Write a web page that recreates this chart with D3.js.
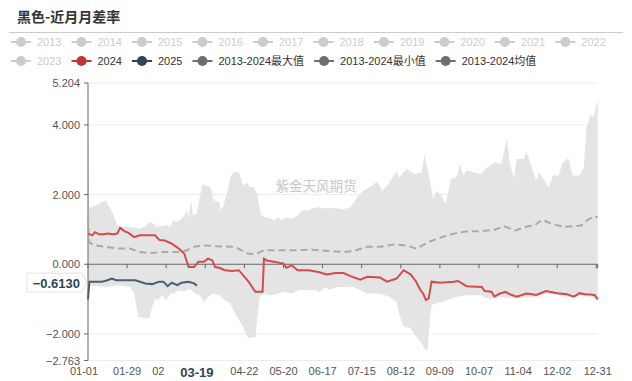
<!DOCTYPE html>
<html>
<head>
<meta charset="utf-8">
<script src="https://cdn.jsdelivr.net/npm/d3@7"></script>
<style>
  body { margin: 0; background: #fff; }
  #plot { width: 632px; height: 381px; }
  text { font-family: "Liberation Sans", Arial, sans-serif; }
</style>
</head>
<body>
<div id="plot"></div>
<script>

// categories: every day of the year, shown as MM-DD
var categories = d3.timeDay.range(new Date(2024, 0, 1), new Date(2025, 0, 1)).map(d3.timeFormat("%m-%d"));

var yTicks = [5.204, 4, 2, 0, -2, -2.763];

var legendNames = ["2013", "2014", "2015", "2016", "2017", "2018", "2019", "2020", "2021", "2022",
		   "2023", "2024", "2025", "2013-2024最大值", "2013-2024最小值", "2013-2024均值"];

// 2013-2024 max
var maxValues = [["01-01",4.1],["01-02",1.6],["01-04",1.64],["01-06",1.69],["01-09",1.72],["01-11",1.78],
    ["01-14",1.82],["01-16",1.66],["01-19",1.45],["01-21",1.21],["01-23",1.07],["01-31",1.07],["02-05",1.05],
    ["02-07",1.02],["02-12",1.11],["02-14",1.21],["02-17",1.16],["02-19",1.07],["02-24",1.10],["02-26",1.14],
    ["02-29",1.07],["03-02",1.26],["03-05",1.21],["03-09",1.35],["03-12",1.54],["03-13",1.35],["03-15",1.83],
    ["03-16",1.40],["03-19",1.45],["03-21",1.92],["03-23",2.30],["03-26",2.25],["03-29",2.20],["03-31",1.83],
    ["04-04",1.78],["04-05",1.54],["04-07",1.69],["04-10",2.11],["04-12",2.50],["04-14",2.64],["04-18",2.64],
    ["04-20",2.40],["04-21",2.26],["04-24",2.35],["04-26",2.21],["04-29",2.21],["05-01",2.02],["05-04",1.40],
    ["05-07",1.35],["05-11",1.30],["05-14",1.26],["05-16",1.35],["05-19",1.26],["05-22",1.35],["05-26",1.30],
    ["05-30",1.40],["06-01",1.50],["06-03",1.55],["06-07",1.55],["06-09",1.60],["06-14",1.64],["06-19",1.60],
    ["06-24",1.62],["06-28",1.60],["07-02",1.58],["07-07",1.64],["07-11",1.88],["07-16",2.11],["07-22",2.25],
    ["07-26",2.37],["07-30",2.11],["08-03",2.30],["08-09",2.66],["08-11",2.50],["08-16",2.73],["08-22",2.59],
    ["08-27",2.64],["08-29",3.16],["09-01",2.59],["09-04",1.88],["09-07",2.11],["09-10",1.97],["09-13",1.73],
    ["09-17",2.45],["09-21",2.50],["09-23",2.88],["09-26",2.55],["09-28",2.69],["10-08",2.59],["10-13",2.78],
    ["10-18",2.92],["10-23",2.88],["10-27",3.62],["10-29",2.88],["11-01",2.50],["11-03",3.02],["11-08",3.02],
    ["11-10",3.24],["11-13",2.88],["11-17",2.40],["11-19",2.64],["11-23",2.40],["11-26",2.21],["11-29",2.55],
    ["12-03",2.55],["12-06",2.92],["12-10",3.05],["12-13",2.55],["12-18",2.55],["12-21",2.78],["12-23",3.92],
    ["12-26",4.30],["12-28",4.21],["12-31",4.72]];

// 2013-2024 min
var minValues = [["01-01",-0.65],["01-04",-0.62],["01-14",-0.65],["01-23",-0.60],["01-31",-0.65],["02-03",-0.84],
    ["02-06",-1.50],["02-11",-1.55],["02-14",-1.55],["02-16",-1.22],["02-18",-0.98],["02-20",-1.03],["02-23",-0.89],
    ["02-26",-1.03],["02-29",-0.84],["03-03",-0.84],["03-06",-0.74],["03-09",-0.79],["03-14",-0.70],["03-18",-0.84],
    ["03-21",-0.89],["03-24",-1.08],["03-27",-0.95],["03-30",-0.84],["04-04",-0.89],["04-08",-1.03],["04-12",-1.12],
    ["04-14",-1.31],["04-18",-1.60],["04-21",-1.79],["04-24",-2.08],["04-26",-2.12],["04-30",-2.08],["05-01",-1.60],
    ["05-03",-0.95],["05-05",-0.84],["05-11",-0.89],["05-16",-0.84],["05-21",-0.79],["05-26",-0.84],["05-31",-0.74],
    ["06-07",-0.74],["06-12",-0.74],["06-15",-0.79],["06-19",-0.65],["06-22",-0.74],["06-27",-0.65],["07-03",-0.65],
    ["07-09",-0.65],["07-14",-0.74],["07-19",-0.84],["07-28",-0.84],["08-04",-0.93],["08-09",-1.08],["08-11",-1.46],
    ["08-14",-1.79],["08-19",-1.84],["08-22",-2.03],["08-26",-2.22],["08-29",-2.41],["08-31",-2.50],["09-02",-1.55],
    ["09-03",-1.17],["09-07",-1.12],["09-14",-1.03],["09-21",-0.93],["09-28",-0.89],["10-08",-0.89],["10-15",-1.00],
    ["10-20",-0.93],["10-27",-0.96],["11-03",-0.98],["11-10",-0.95],["11-17",-0.95],["11-24",-0.84],["12-02",-0.88],
    ["12-09",-0.93],["12-14",-0.96],["12-18",-0.90],["12-26",-0.93],["12-31",-1.04]];

// 2013-2024 mean
var avgValues = [["01-01",1.35],["01-02",0.62],["01-06",0.54],["01-14",0.50],["01-23",0.45],["01-31",0.45],["02-07",0.35],
    ["02-14",0.32],["02-22",0.35],["02-29",0.35],["03-07",0.35],["03-12",0.40],["03-16",0.50],["03-24",0.54],
    ["04-02",0.52],["04-08",0.51],["04-15",0.50],["04-20",0.40],["04-25",0.30],["04-30",0.29],["05-03",0.35],
    ["05-06",0.40],["05-16",0.40],["05-28",0.40],["06-09",0.42],["06-21",0.38],["07-02",0.35],["07-09",0.38],
    ["07-19",0.50],["07-28",0.50],["08-07",0.57],["08-16",0.54],["08-23",0.45],["09-01",0.64],["09-09",0.76],
    ["09-19",0.88],["09-29",0.95],["10-09",0.95],["10-18",0.99],["10-25",1.09],["11-02",0.97],["11-11",1.09],
    ["11-16",1.12],["11-21",1.28],["11-28",1.16],["12-07",1.07],["12-12",1.09],["12-19",1.11],["12-23",1.25],
    ["12-28",1.37],["12-31",1.35]];

var values2024 = [["01-01",0.88],["01-04",0.83],["01-06",0.92],["01-09",0.86],["01-12",0.86],["01-15",0.88],
    ["01-19",0.86],["01-22",0.88],["01-24",1.05],["01-27",0.95],["01-30",0.90],["02-03",0.78],["02-07",0.83],
    ["02-18",0.83],["02-21",0.70],["02-25",0.68],["03-01",0.59],["03-06",0.45],["03-10",0.30],["03-13",-0.08],
    ["03-17",-0.08],["03-20",0.07],["03-24",0.07],["03-27",0.16],["03-30",0.11],["04-01",-0.08],["04-04",-0.10],
    ["04-08",-0.17],["04-13",-0.19],["04-18",-0.17],["04-21",-0.31],["04-25",-0.50],["04-29",-0.74],["04-30",-0.79],
    ["05-05",-0.79],["05-06",0.16],["05-08",0.11],["05-13",0.07],["05-20",0.02],["05-22",-0.10],["05-26",-0.03],
    ["05-30",-0.17],["06-07",-0.17],["06-14",-0.22],["06-20",-0.29],["06-26",-0.25],["07-02",-0.25],["07-07",-0.34],
    ["07-14",-0.44],["07-19",-0.36],["07-28",-0.38],["08-02",-0.50],["08-09",-0.41],["08-14",-0.17],["08-19",-0.29],
    ["08-23",-0.50],["08-26",-0.74],["08-28",-0.84],["08-30",-1.03],["09-01",-0.98],["09-03",-0.50],["09-09",-0.53],
    ["09-19",-0.50],["09-22",-0.48],["09-28",-0.63],["10-09",-0.65],["10-11",-0.77],["10-16",-0.79],["10-18",-0.93],
    ["10-22",-0.84],["10-26",-0.79],["10-29",-0.86],["11-03",-0.93],["11-10",-0.84],["11-14",-0.86],["11-17",-0.88],
    ["11-24",-0.77],["12-02",-0.83],["12-09",-0.86],["12-14",-0.93],["12-18",-0.83],["12-22",-0.86],["12-26",-0.87],
    ["12-29",-0.89],["12-31",-1.01]];

var values2025 = [["01-01",-1.01],["01-02",-0.50],["01-06",-0.50],["01-11",-0.50],["01-15",-0.46],["01-18",-0.41],
    ["01-21",-0.46],["02-04",-0.46],["02-11",-0.55],["02-16",-0.57],["02-21",-0.50],["02-24",-0.50],["02-27",-0.63],
    ["03-01",-0.53],["03-05",-0.60],["03-08",-0.53],["03-13",-0.50],["03-17",-0.55],["03-19",-0.613]];

var pointerDate = "03-19", pointerValue = -0.6130;

(function() {

    var width = 632, height = 381;
    var mLeft = 88, mRight = 597.7, mTop = 83, mBottom = 360.5;

    var svg = d3.select("#plot").append("svg")
	.attr("width", width)
	.attr("height", height);

    var x = d3.scalePoint().domain(categories).range([mLeft, mRight]);
    var y = d3.scaleLinear().domain([-2.763, 5.204]).range([mBottom, mTop]);

    // Title and separator
    svg.append("text")
	.attr("x", 17).attr("y", 22)
	.style("font-family", "'Noto Sans CJK SC', sans-serif")
	.style("font-weight", "bold")
	.style("font-size", "14px")
	.style("fill", "#333")
	.text("黑色-近月月差率");
    svg.append("line")
	.attr("x1", 9).attr("x2", 623)
	.attr("y1", 32.5).attr("y2", 32.5)
	.style("stroke", "#ccc");

    // Legend
    var legendColors = {"2024": "#c23531", "2025": "#2f4554",
			"2013-2024最大值": "#6e6e6e", "2013-2024最小值": "#6e6e6e", "2013-2024均值": "#6e6e6e"};
    var lx = 11, ly = 42;
    legendNames.forEach(function(name) {
	var active = legendColors[name] !== undefined;
	var col = active ? legendColors[name] : "#ccc";
	var g = svg.append("g");
	g.append("line")
	    .attr("x1", 0).attr("x2", 20).attr("y1", 0).attr("y2", 0)
	    .style("stroke", col).style("stroke-width", 2);
	g.append("circle")
	    .attr("cx", 10).attr("cy", 0).attr("r", 5)
	    .style("fill", col);
	var t = g.append("text")
	    .attr("x", 26).attr("y", 4)
	    .style("font-size", "11px")
	    .style("font-family", "'Liberation Sans', 'Noto Sans CJK SC', sans-serif")
	    .style("fill", active ? "#333" : "#ccc")
	    .text(name);
	var w = 26 + t.node().getComputedTextLength();
	if (lx + w > 625) { lx = 11; ly += 19; }
	g.attr("transform", "translate(" + lx + "," + ly + ")");
	lx += w + 10;
    });

    // Grid lines
    svg.append("g").selectAll("line")
	.data(yTicks.filter(function(d) { return d !== 0; }))
	.enter().append("line")
	.attr("x1", mLeft).attr("x2", mRight)
	.attr("y1", function(d) { return y(d); })
	.attr("y2", function(d) { return y(d); })
	.style("stroke", "#ececec");

    // Max / min band, filled against zero
    var band = d3.area()
	.x(function(d) { return x(d[0]); })
	.y0(y(0))
	.y1(function(d) { return y(d[1]); });
    svg.append("path").datum(maxValues).attr("d", band).style("fill", "#e4e4e4");
    svg.append("path").datum(minValues).attr("d", band).style("fill", "#e4e4e4");

    // Watermark
    svg.append("text")
	.attr("x", 316).attr("y", 191)
	.attr("text-anchor", "middle")
	.style("font-family", "'Noto Sans CJK SC', sans-serif")
	.style("font-size", "13.5px")
	.style("fill", "#c8c8c8")
	.text("紫金天风期货");

    // Axes
    var xAxis = svg.append("g");
    xAxis.append("line")
	.attr("x1", mLeft).attr("x2", mRight)
	.attr("y1", y(0)).attr("y2", y(0))
	.style("stroke", "#666");
    var tickIdx = d3.range(0, categories.length, 28).concat([categories.length - 1]);
    xAxis.selectAll("line.tk")
	.data(tickIdx)
	.enter().append("line")
	.attr("x1", function(i) { return x(categories[i]); })
	.attr("x2", function(i) { return x(categories[i]); })
	.attr("y1", y(0)).attr("y2", y(0) + 4)
	.style("stroke", "#666");
    // labels hidden behind the pointer label or crowded at the end are skipped
    var px = x(pointerDate);
    var labelIdx = tickIdx.filter(function(i) {
	return i !== 364 && Math.abs(x(categories[i]) - px) > 20;
    });
    xAxis.selectAll("text")
	.data(labelIdx)
	.enter().append("text")
	.attr("x", function(i) { return x(categories[i]) + (i === 0 ? -4 : 0); })
	.attr("y", 375)
	.attr("text-anchor", "middle")
	.style("font-size", "11px")
	.style("fill", "#555")
	.text(function(i) { return categories[i]; });

    var yAxis = svg.append("g");
    yAxis.append("line")
	.attr("x1", mLeft).attr("x2", mLeft)
	.attr("y1", mTop).attr("y2", mBottom)
	.style("stroke", "#666");
    yAxis.selectAll("line.tk")
	.data(yTicks)
	.enter().append("line")
	.attr("x1", mLeft - 4).attr("x2", mLeft)
	.attr("y1", function(d) { return y(d); })
	.attr("y2", function(d) { return y(d); })
	.style("stroke", "#666");
    yAxis.selectAll("text")
	.data(yTicks)
	.enter().append("text")
	.attr("x", 80)
	.attr("y", function(d) { return y(d) + 4; })
	.attr("text-anchor", "end")
	.style("font-size", "11px")
	.style("fill", "#555")
	.text(function(d) { return d3.format(".3f")(d); });

    // Lines
    var line = d3.line()
	.x(function(d) { return x(d[0]); })
	.y(function(d) { return y(d[1]); });
    svg.append("path").datum(avgValues).attr("d", line)
	.style("fill", "none").style("stroke", "#aaa")
	.style("stroke-width", 2).style("stroke-dasharray", "7,4");
    svg.append("path").datum(values2024).attr("d", line)
	.style("fill", "none").style("stroke", "#d14d4c").style("stroke-width", 2);
    svg.append("path").datum(values2025).attr("d", line)
	.style("fill", "none").style("stroke", "#4c5f70").style("stroke-width", 2);

    // Axis pointer labels
    svg.append("rect")
	.attr("x", px - 33).attr("y", 364)
	.attr("width", 66).attr("height", 17)
	.style("fill", "#fff");
    svg.append("text")
	.attr("x", px).attr("y", 377)
	.attr("text-anchor", "middle")
	.style("font-size", "13px").style("font-weight", "bold")
	.style("fill", "#2f4554")
	.text(pointerDate);

    var py = y(pointerValue) - 3;
    svg.append("path")
	.attr("d", "M27," + (py - 9.5) + "H82L87," + py + "L82," + (py + 9.5) + "H27Z")
	.style("fill", "#fff").style("stroke", "#e2e2e2");
    svg.append("text")
	.attr("x", 80).attr("y", py + 5)
	.attr("text-anchor", "end")
	.style("font-size", "13px").style("font-weight", "bold")
	.style("fill", "#2f4554")
	.text(d3.format(".4f")(pointerValue));

})();

</script>
</body>
</html>
